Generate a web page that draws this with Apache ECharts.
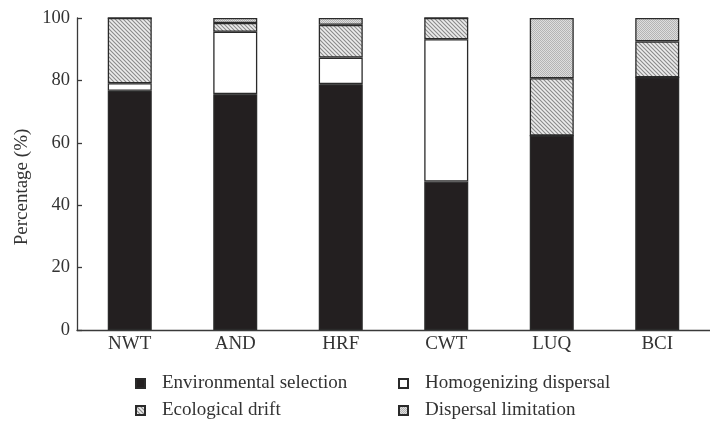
<!DOCTYPE html>
<html>
<head>
<meta charset="utf-8">
<script src="https://cdn.jsdelivr.net/npm/echarts@6/dist/echarts.min.js"></script>
<style>html,body{margin:0;padding:0;background:#fff}#c{width:710px;height:424px}</style>
</head>
<body>
<div id="c"></div>
<script>
const categories = ['NWT', 'AND', 'HRF', 'CWT', 'LUQ', 'BCI'];
const envSelection = [76.7, 75.6, 78.8, 47.6, 62.3, 81.0];
const homDispersal = [2.4, 20.0, 8.5, 45.6, 0, 0];
const ecoDrift = [20.9, 2.8, 10.5, 6.8, 18.4, 11.5];
const dispLimitation = [0, 1.6, 2.2, 0, 19.3, 7.5];
const yTicks = [0, 20, 40, 60, 80, 100];

function hatch() {
  const c = document.createElement('canvas');
  c.width = 4; c.height = 4;
  const g = c.getContext('2d');
  g.fillStyle = '#ececec'; g.fillRect(0, 0, 4, 4);
  g.strokeStyle = '#8a8a8a'; g.lineWidth = 1.1;
  g.beginPath();
  g.moveTo(-1, -1); g.lineTo(5, 5);
  g.moveTo(3, -1); g.lineTo(5, 1);
  g.moveTo(-1, 3); g.lineTo(1, 5);
  g.stroke();
  return c;
}
function checker() {
  const c = document.createElement('canvas');
  c.width = 2; c.height = 2;
  const g = c.getContext('2d');
  g.fillStyle = '#dedede'; g.fillRect(0, 0, 2, 2);
  g.fillStyle = '#b4b4b4'; g.fillRect(0, 0, 1, 1); g.fillRect(1, 1, 1, 1);
  return c;
}
const FONT = 'Liberation Serif';
const border = { borderColor: '#2a2a2a', borderWidth: 1.3 };
function mk(name, data, color) {
  return {
    name, type: 'bar', stack: 's', data, barWidth: 44,
    itemStyle: Object.assign({ color }, border),
    emphasis: { disabled: true }
  };
}
const legendText = { color: '#333', fontFamily: FONT, fontSize: 19, padding: [0, 0, 0, 12], lineHeight: 19 };
const chart = echarts.init(document.getElementById('c'), null, { renderer: 'canvas' });
chart.setOption({
  animation: false,
  grid: { left: 77, top: 18, width: 642, bottom: 94 },
  xAxis: {
    type: 'category', data: categories,
    axisLine: { lineStyle: { color: '#3a3a3a', width: 1.3 } },
    axisTick: { show: false },
    axisLabel: { color: '#333', fontFamily: FONT, fontSize: 19, margin: 5 }
  },
  yAxis: {
    type: 'value', min: 0, max: 100, interval: 20,
    name: 'Percentage (%)', nameLocation: 'middle', nameGap: 45, nameRotate: 90,
    nameTextStyle: { color: '#333', fontFamily: FONT, fontSize: 19, padding: [0, 26, 0, 0] },
    axisLine: { show: true, lineStyle: { color: '#3a3a3a', width: 1.3 } },
    axisTick: { show: true, inside: true, length: 5, lineStyle: { color: '#3a3a3a', width: 1.3 } },
    axisLabel: { color: '#333', fontFamily: FONT, fontSize: 18.5, margin: 7,
      formatter: v => yTicks.includes(v) ? String(v) : '' },
    splitLine: { show: false }
  },
  legend: [
    {
      data: ['Environmental selection', 'Ecological drift'], orient: 'vertical',
      left: 135, top: 374, padding: 0, itemWidth: 9, itemHeight: 9, itemGap: 8, icon: 'rect',
      textStyle: legendText, selectedMode: false
    },
    {
      data: ['Homogenizing dispersal', 'Dispersal limitation'], orient: 'vertical',
      left: 398, top: 374, padding: 0, itemWidth: 9, itemHeight: 9, itemGap: 8, icon: 'rect',
      textStyle: legendText, selectedMode: false
    }
  ],
  series: [
    mk('Environmental selection', envSelection, '#231f20'),
    mk('Homogenizing dispersal', homDispersal, '#ffffff'),
    mk('Ecological drift', ecoDrift, { image: hatch(), repeat: 'repeat' }),
    mk('Dispersal limitation', dispLimitation, { image: checker(), repeat: 'repeat' })
  ]
});
</script>
</body>
</html>
